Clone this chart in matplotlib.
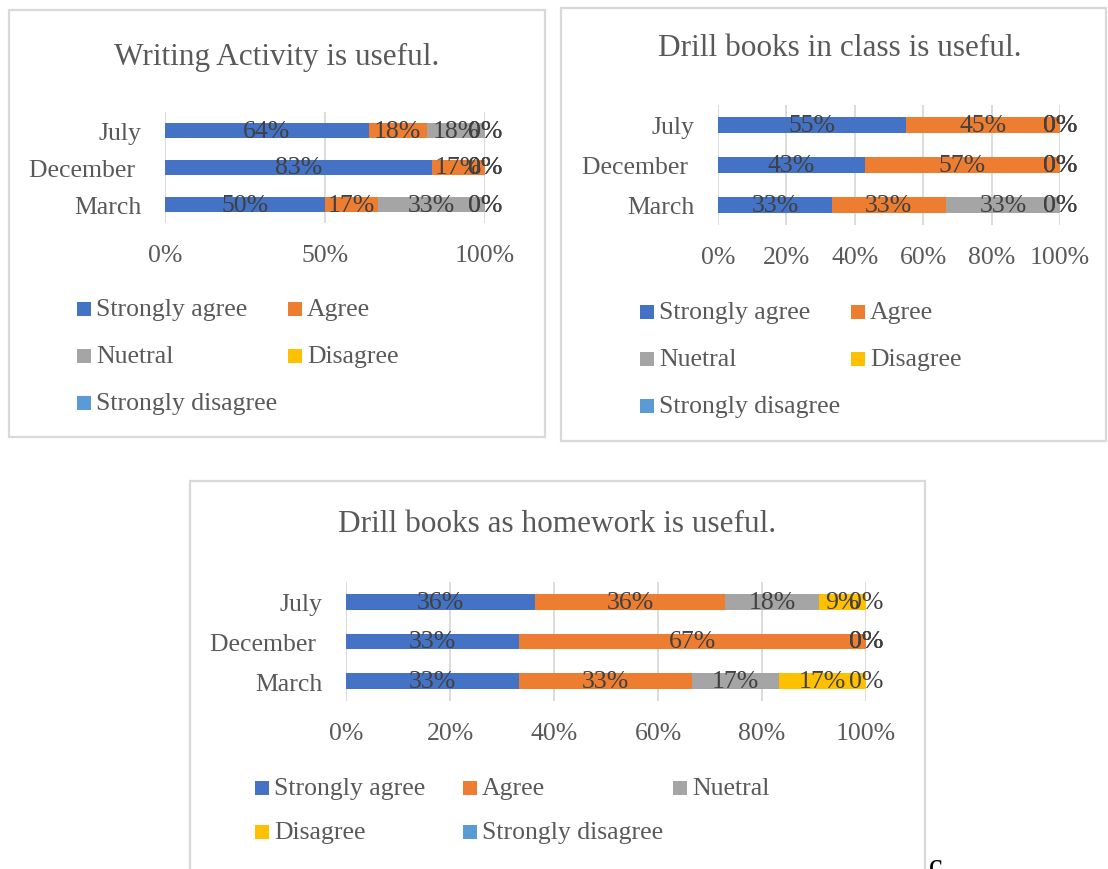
import matplotlib.pyplot as plt
from matplotlib.patches import Rectangle

plt.rcParams["font.family"] = ["Liberation Serif", "DejaVu Serif"]

W, H = 1108, 870

months = ["March", "December ", "July"]
levels = ["Strongly agree", "Agree", "Nuetral", "Disagree", "Strongly disagree"]
colors = ["#4472C4", "#ED7D31", "#A5A5A5", "#FFC000", "#5B9BD5"]

# percentages per month (March, December, July), one list per answer level
writing_pct = [
    [50, 83.3, 63.6],
    [16.7, 16.7, 18.2],
    [33.3, 0, 18.2],
    [0, 0, 0],
    [0, 0, 0],
]
class_pct = [
    [33.3, 42.9, 55],
    [33.3, 57.1, 45],
    [33.4, 0, 0],
    [0, 0, 0],
    [0, 0, 0],
]
homework_pct = [
    [33.3, 33.3, 36.4],
    [33.3, 66.7, 36.4],
    [16.7, 0, 18.2],
    [16.7, 0, 9.0],
    [0, 0, 0],
]

writing_ticks = [0, 50, 100]
fine_ticks = [0, 20, 40, 60, 80, 100]

TEXT = "#595959"
LABEL = "#404040"
GRID = "#d9d9d9"
FS = 18.5
TITLE_FS = 22.5

fig = plt.figure(figsize=(W / 100, H / 100), dpi=100)


def px_box(x0, y0, x1, y1):
    return [x0 / W, 1 - y1 / H, (x1 - x0) / W, (y1 - y0) / H]


def frame(x0, y0, x1, y1):
    fig.patches.append(Rectangle((x0 / W, 1 - y1 / H), (x1 - x0) / W, (y1 - y0) / H,
                                 transform=fig.transFigure, fill=False,
                                 edgecolor=GRID, linewidth=1.6))


def stacked(axbox, values, ticks, bar_h):
    ax = fig.add_axes(px_box(*axbox))
    left = [0, 0, 0]
    for vals, color in zip(values, colors):
        bars = ax.barh(months, vals, left=left, height=bar_h, color=color, zorder=3)
        ax.bar_label(bars, labels=[f"{int(v + 0.5)}%" for v in vals], label_type="center",
                     color=LABEL, fontsize=FS, zorder=4, annotation_clip=False)
        left = [a + b for a, b in zip(left, vals)]
    ax.set_xlim(0, 100)
    ax.set_ylim(-0.5, 2.5)
    ax.set_xticks(ticks)
    ax.set_xticklabels([f"{t}%" for t in ticks])
    ax.grid(axis="x", color=GRID, linewidth=1.3, zorder=0)
    for s in ax.spines.values():
        s.set_visible(False)
    ax.tick_params(axis="x", length=0, pad=15, labelsize=FS, labelcolor=TEXT)
    ax.tick_params(axis="y", length=0, pad=17, labelsize=FS, labelcolor=TEXT)
    return ax


def legend_rows(cols_x, rows_y):
    i = 0
    for y in rows_y:
        for x in cols_x:
            if i >= len(levels):
                return
            fig.patches.append(Rectangle((x / W, 1 - (y + 7) / H), 14 / W, 14 / H,
                                         transform=fig.transFigure,
                                         facecolor=colors[i], edgecolor="none"))
            fig.text((x + 19) / W, 1 - y / H, levels[i], color=TEXT, fontsize=FS,
                     va="center", ha="left")
            i += 1


# Writing activity
frame(9, 11, 545, 438)
fig.text(277 / W, 1 - 57 / H, "Writing Activity is useful.", color=TEXT, fontsize=TITLE_FS,
         ha="center", va="center")
stacked((165, 113, 485, 224), writing_pct, writing_ticks, 0.4)
legend_rows([77, 288], [310, 357, 404])

# Drill books in class
frame(561, 9, 1106, 442)
fig.text(840 / W, 1 - 49 / H, "Drill books in class is useful.", color=TEXT, fontsize=TITLE_FS,
         ha="center", va="center")
stacked((718, 106, 1060, 226), class_pct, fine_ticks, 0.42)
legend_rows([640, 851], [313, 360, 407])

# Drill books as homework
frame(190, 482, 925, 880)
fig.text(557 / W, 1 - 525 / H, "Drill books as homework is useful.", color=TEXT,
         fontsize=TITLE_FS, ha="center", va="center")
stacked((346, 583, 866, 702), homework_pct, fine_ticks, 0.4)
legend_rows([255, 463, 673], [789, 833])

fig.text(929 / W, 1 - 868 / H, "c", color="black", fontsize=22, ha="left", va="center")

fig.savefig("out.png", dpi=100)
